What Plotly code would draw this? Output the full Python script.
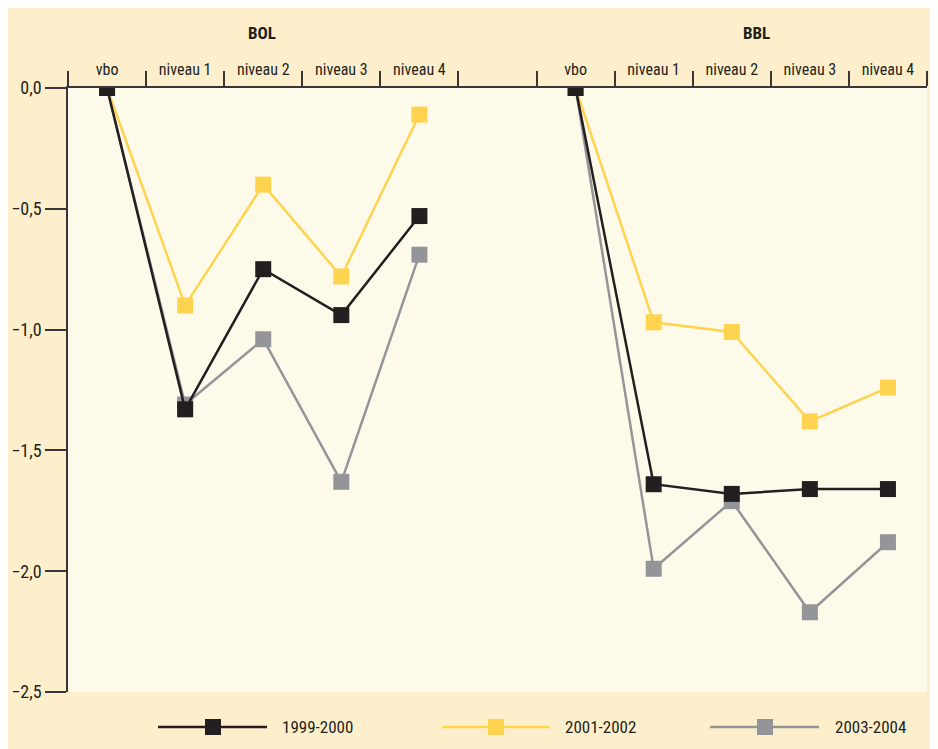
import plotly.graph_objects as go

# ---- data ----
categories = ["vbo", "niveau 1", "niveau 2", "niveau 3", "niveau 4", "",
              "vbo", "niveau 1", "niveau 2", "niveau 3", "niveau 4"]
bol_idx = [0, 1, 2, 3, 4]
bbl_idx = [6, 7, 8, 9, 10]
group_titles = ["BOL", "BBL"]
series_names = ["1999-2000", "2001-2002", "2003-2004"]

bol_1999 = [0.0, -1.33, -0.75, -0.94, -0.53]
bol_2001 = [0.0, -0.90, -0.40, -0.78, -0.11]
bol_2003 = [0.0, -1.31, -1.04, -1.63, -0.69]

bbl_1999 = [0.0, -1.64, -1.68, -1.66, -1.66]
bbl_2001 = [0.0, -0.97, -1.01, -1.38, -1.24]
bbl_2003 = [0.0, -1.99, -1.71, -2.17, -1.88]

y_ticks = [0.0, -0.5, -1.0, -1.5, -2.0, -2.5]

colors = {"1999-2000": "#231f20", "2001-2002": "#fed350", "2003-2004": "#939598"}
series = {
    "1999-2000": (bol_1999, bbl_1999),
    "2001-2002": (bol_2001, bbl_2001),
    "2003-2004": (bol_2003, bbl_2003),
}

FONT = "Liberation Sans Narrow, Roboto Condensed, Arial Narrow, sans-serif"
OFF = 8  # page body margin
W, H = 930, 741
ML, MT = 68 - OFF, 88 - OFF
MR = W - (927 - OFF)
MB = H - (692 - OFF)
PW, PH = W - ML - MR, H - MT - MB


def px_x(px):
    return (px - OFF - ML) / PW


def px_y(py):
    return (H - MB - (py - OFF)) / PH


fig = go.Figure()

for name in ["2003-2004", "2001-2002", "1999-2000"]:
    bol, bbl = series[name]
    xs = list(bol_idx) + [None] + list(bbl_idx)
    ys = list(bol) + [None] + list(bbl)
    fig.add_trace(go.Scatter(
        x=xs, y=ys, name=name, mode="lines+markers",
        line=dict(color=colors[name], width=2.5),
        marker=dict(symbol="square", size=16, color=colors[name], line=dict(width=0)),
        connectgaps=False, showlegend=False, hoverinfo="skip",
    ))

shapes = []
annotations = []

# group titles
for title, xpos in zip(group_titles, [262, 756]):
    annotations.append(dict(text="<b>%s</b>" % title, x=px_x(xpos), xref="paper",
                            y=px_y(33), yref="paper", showarrow=False,
                            xanchor="center", yanchor="middle",
                            font=dict(family=FONT, size=17, color="#231f20")))

# manual legend
legend_layout = [(158, 267, 213, 280), (442, 550, 496, 563), (710, 819, 765, 833)]
ly = 727
for name, (lx0, lx1, sq, tx) in zip(series_names, legend_layout):
    c = colors[name]
    shapes.append(dict(type="line", xref="paper", yref="paper",
                       x0=px_x(lx0), x1=px_x(lx1), y0=px_y(ly), y1=px_y(ly),
                       line=dict(color=c, width=2.5)))
    shapes.append(dict(type="rect", xref="paper", yref="paper",
                       x0=px_x(sq - 8), x1=px_x(sq + 8), y0=px_y(ly + 8), y1=px_y(ly - 8),
                       fillcolor=c, line=dict(width=0)))
    annotations.append(dict(text=name, xref="paper", yref="paper",
                            x=px_x(tx), y=px_y(ly), xanchor="left", yanchor="middle",
                            showarrow=False,
                            font=dict(family=FONT, size=17, color="#231f20")))

fig.update_layout(
    width=W, height=H,
    margin=dict(l=ML, r=MR, t=MT, b=MB, pad=0, autoexpand=False),
    paper_bgcolor="#fdefcb",
    plot_bgcolor="#fefaea",
    separators=",.",
    showlegend=False,
    shapes=shapes,
    annotations=annotations,
    font=dict(family=FONT, color="#231f20"),
)

fig.update_xaxes(
    range=[-0.5, 10.5], side="top", automargin=False,
    tickmode="array", tickvals=list(range(len(categories))), ticktext=categories,
    ticks="outside", ticklen=5, tickcolor="rgba(0,0,0,0)",
    tickfont=dict(family=FONT, size=16, color="#231f20"),
    showline=True, linecolor="#3a3637", linewidth=1.5,
    showgrid=False, zeroline=False,
    minor=dict(tickmode="linear", tick0=-0.5, dtick=1, ticks="outside",
               ticklen=15, tickwidth=1.5, tickcolor="#3a3637", showgrid=False),
)

fig.update_yaxes(
    range=[-2.5, 0.0], automargin=False,
    tickmode="array", tickvals=y_ticks, tickformat=".1f",
    ticks="outside", ticklen=21, tickwidth=1.5, tickcolor="#3a3637",
    tickfont=dict(family=FONT, size=18, color="#231f20"),
    showline=True, linecolor="#3a3637", linewidth=1.5,
    showgrid=False, zeroline=False,
)

fig.write_html("out.html")
